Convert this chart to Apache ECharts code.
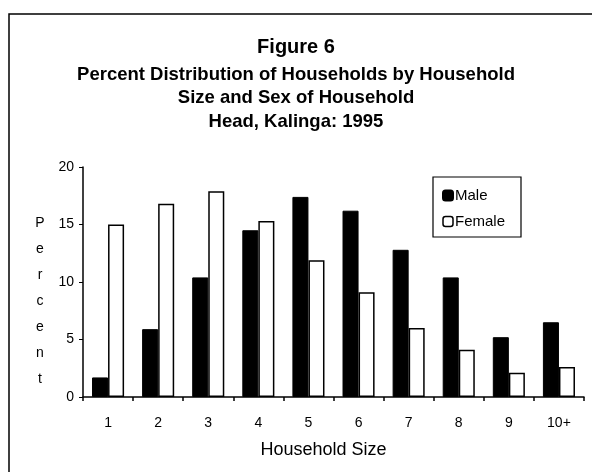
<!DOCTYPE html>
<html>
<head>
<meta charset="utf-8">
<script src="https://cdn.jsdelivr.net/npm/echarts@6/dist/echarts.min.js"></script>
<style>
html,body{margin:0;padding:0;background:#fff;}
#c{width:592px;height:472px;}
</style>
</head>
<body>
<div id="c"></div>
<script>
var categories = ['1','2','3','4','5','6','7','8','9','10+'];
var maleValues = [1.7, 5.9, 10.4, 14.5, 17.4, 16.2, 12.8, 10.4, 5.2, 6.5];
var femaleValues = [15.0, 16.8, 17.9, 15.3, 11.9, 9.1, 6.0, 4.1, 2.1, 2.6];
var yTicks = [0, 5, 10, 15, 20];
var yAxisTitle = 'Percent';

var chart = echarts.init(document.getElementById('c'));
var font = 'Liberation Sans, Arial, sans-serif';
chart.setOption({
  animation: false,
  backgroundColor: '#fff',
  textStyle: {fontFamily: font, color: '#000'},
  title: [
    {text: 'Figure 6', left: 'center', top: 32, padding: [5, 0, 5, 20],
     textStyle: {fontSize: 20, fontWeight: 'bold', color: '#000', fontFamily: font}},
    {text: 'Percent Distribution of Households by Household\nSize and Sex of Household\nHead, Kalinga: 1995',
     left: 'center', top: 58, padding: [5, 0, 5, 20],
     textStyle: {fontSize: 18.5, fontWeight: 'bold', color: '#000', fontFamily: font, lineHeight: 23.5}}
  ],
  graphic: [
    {type: 'polyline', shape: {points: [[9, 472], [9, 14], [592, 14]]}, style: {stroke: '#000', lineWidth: 1.5, fill: null}},
    {type: 'rect', shape: {x: 433, y: 177, width: 88, height: 60}, style: {stroke: '#000', lineWidth: 1.2, fill: '#fff'}, z: 5},
    {type: 'text', x: 40, y: 210,
     style: {text: yAxisTitle.split('').join('\n'), fontSize: 14, lineHeight: 26, fontFamily: font, fill: '#000',
             textAlign: 'center', textVerticalAlign: 'top'}}
  ],
  legend: {
    left: 437, top: 183, orient: 'vertical', itemGap: 11, itemWidth: 10, itemHeight: 10,
    textStyle: {fontSize: 15, color: '#000', fontFamily: font, padding: [0, 0, 0, -3]},
    data: [
      {name: 'Male', itemStyle: {color: '#000', borderColor: '#000'}},
      {name: 'Female', itemStyle: {color: '#fff', borderColor: '#000', borderWidth: 1.5}}
    ],
    z: 10
  },
  grid: {left: 83, right: 8, top: 167, bottom: 75, containLabel: false},
  xAxis: {
    type: 'category', data: categories,
    name: 'Household Size', nameLocation: 'middle', nameGap: 44,
    nameTextStyle: {fontSize: 18, color: '#000', fontFamily: font, padding: [0, 20, 0, 0]},
    axisLine: {lineStyle: {color: '#000', width: 1.5}},
    axisTick: {show: true, inside: false, length: 4, lineStyle: {color: '#000', width: 1.5}},
    axisLabel: {fontSize: 14, color: '#000', margin: 19, fontFamily: font}
  },
  yAxis: {
    type: 'value', min: 0, max: 20, interval: 5,
    axisLine: {show: true, lineStyle: {color: '#000', width: 1.5}},
    axisTick: {show: true, inside: false, length: 4, lineStyle: {color: '#000'}},
    axisLabel: {fontSize: 14, color: '#000', margin: 9, fontFamily: font,
      formatter: function(v){ return yTicks.indexOf(v) >= 0 ? String(v) : ''; }},
    splitLine: {show: false}
  },
  series: [
    {name: 'Male', type: 'bar', data: maleValues, barGap: '0%', barCategoryGap: '36%',
     itemStyle: {color: '#000', borderColor: '#000', borderWidth: 1}},
    {name: 'Female', type: 'bar', data: femaleValues, barGap: '0%', barCategoryGap: '36%',
     itemStyle: {color: '#fff', borderColor: '#000', borderWidth: 1.5}}
  ]
});
</script>
</body>
</html>
